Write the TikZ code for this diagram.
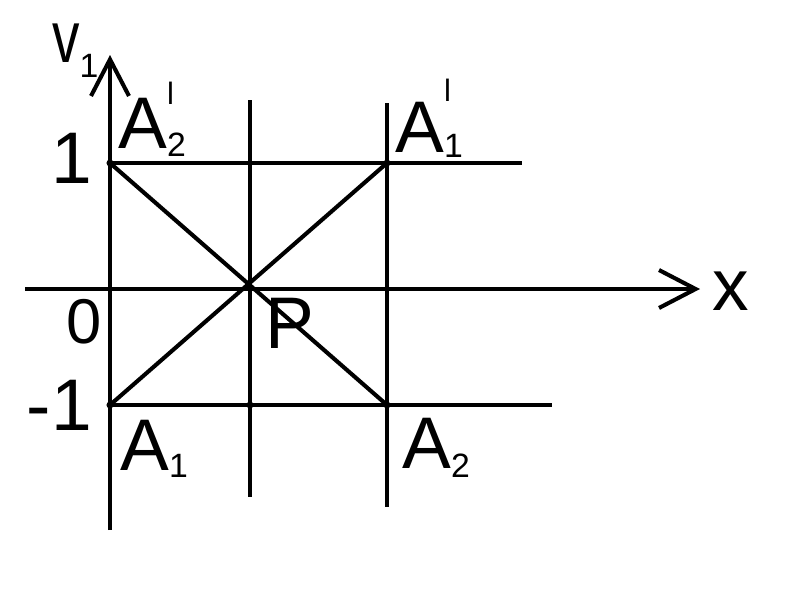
\documentclass[tikz,border=0pt]{standalone}
\usepackage{fontspec}
\setmainfont{Liberation Sans}
\usetikzlibrary{arrows.meta}

\newcommand{\bigtxt}{\fontsize{52}{56}\selectfont}
\newcommand{\subtxt}{\fontsize{24}{26}\selectfont}
\newcommand{\primetxt}{\fontsize{22}{24}\selectfont}
\newcommand{\lowsub}[2]{\raisebox{-#1}{\subtxt #2}}

\begin{document}
\begin{tikzpicture}[x = 0.025cm, y = -0.025cm]
\tikzstyle{Line}=[line width = 2.9pt]
\tikzstyle{Axis}=[Line,
                  -{Straight Barb[length = 26pt, width = 27pt]}]
\tikzstyle{Dot}=[shape = circle,
                 fill,
                 inner sep = 0pt,
                 minimum size = 5pt]
\tikzstyle{Lbl}=[inner sep = 0pt, font = \bigtxt]
\useasboundingbox (0,0) rectangle (800,600);
\coordinate (yb) at (110,530);
\coordinate (yt) at (110,55);
\coordinate (xl) at (25,289);
\coordinate (xr) at (700,289);
\coordinate (v1t) at (250,100);
\coordinate (v1b) at (250,497);
\coordinate (v2t) at (387,103);
\coordinate (v2b) at (387,507);
\coordinate (h1e) at (522,163);
\coordinate (h2e) at (552,405);
\node[Dot] (A2p) at (110,163) {};
\node[Dot] (A1p) at (387,163) {};
\node[Dot] (A1) at (110,405) {};
\node[Dot] (M) at (250,405) {};
\node[Dot] (A2) at (387,405) {};
\draw[Axis] (yb) -- (yt);
\draw[Axis] (xl) -- (xr);
\draw[Line] (v1t) -- (v1b);
\draw[Line] (v2t) -- (v2b);
\draw[Line] (A2p.center) -- (h1e);
\draw[Line] (A1.center) -- (h2e);
\draw[Line] (A2p.center) -- (A2.center);
\draw[Line] (A1.center) -- (A1p.center);
\node[Dot] (P) at (intersection of A2p--A2 and A1--A1p) {};
% labels
\node[Lbl, anchor = base west] (lv) at (52,62) {\scalebox{0.75}[1]{v}\lowsub{11pt}{1}};
\node[Lbl, anchor = base west] (lx) at (712,310) {x};
\node[Lbl, anchor = base east] (lone) at (92,183) {1};
\node[Lbl, anchor = base east, font = \fontsize{45}{50}\selectfont] (lzero) at (102,343) {0};
\node[Lbl, anchor = base east] (lmone) at (92,430) {-1};
\node[Lbl, anchor = base west] (lP) at (265,348) {P};
\node[Lbl, anchor = base west] (lA2p) at (118,148) {A\rlap{\lowsub{6pt}{2}}\raisebox{31pt}{\primetxt l}};
\node[Lbl, anchor = base west] (lA1p) at (395,152) {A\rlap{\lowsub{4pt}{1}}\raisebox{36pt}{\primetxt l}};
\node[Lbl, anchor = base west] (lA1) at (120,470) {A\lowsub{5pt}{1}};
\node[Lbl, anchor = base west] (lA2) at (402,468) {A\lowsub{7pt}{2}};
\end{tikzpicture}
\end{document}
